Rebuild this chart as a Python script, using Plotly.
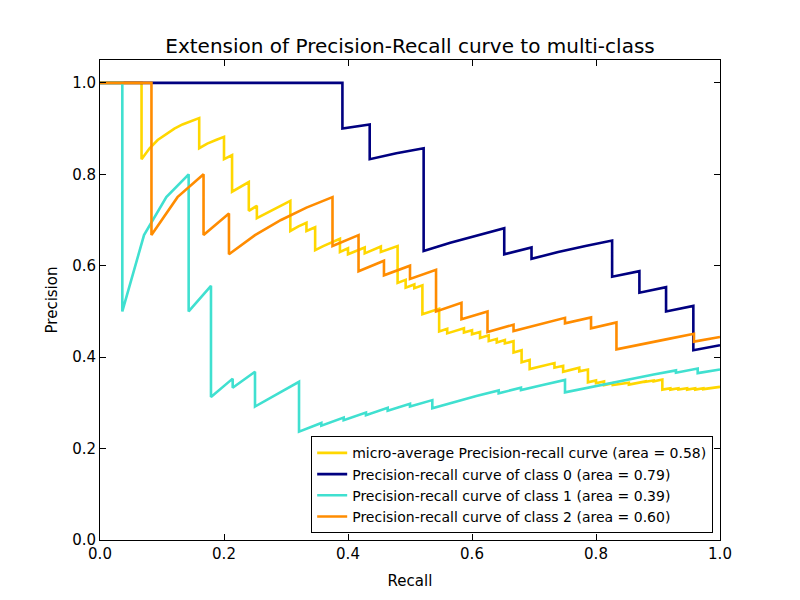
import plotly.graph_objects as go

# ---- data ----
labels = [
    "micro-average Precision-recall curve (area = 0.58)",
    "Precision-recall curve of class 0 (area = 0.79)",
    "Precision-recall curve of class 1 (area = 0.39)",
    "Precision-recall curve of class 2 (area = 0.60)",
]
colors = ["gold", "navy", "turquoise", "darkorange"]

micro_recall = [0, 0.067, 0.067,
    0.08, 0.093, 0.107, 0.12, 0.133, 0.147, 0.16, 0.16,
    0.173, 0.187, 0.2, 0.2,
    0.213, 0.213,
    0.227, 0.24, 0.24,
    0.253, 0.253,
    0.267, 0.28, 0.293, 0.307, 0.307,
    0.32, 0.333, 0.333,
    0.347, 0.347,
    0.36, 0.373, 0.387, 0.387,
    0.4, 0.4,
    0.413, 0.427, 0.427,
    0.44, 0.453, 0.453,
    0.467, 0.48, 0.48,
    0.493, 0.493,
    0.507, 0.507,
    0.52, 0.52,
    0.533, 0.547, 0.547,
    0.56, 0.56,
    0.573, 0.587, 0.587,
    0.6, 0.6,
    0.613, 0.613,
    0.627, 0.627,
    0.64, 0.64,
    0.653, 0.653,
    0.667, 0.667,
    0.68, 0.68,
    0.693, 0.693,
    0.707, 0.72, 0.733, 0.733,
    0.747, 0.747,
    0.76, 0.773, 0.773,
    0.787, 0.787,
    0.8, 0.8,
    0.813, 0.813,
    0.827, 0.827,
    0.84, 0.84,
    0.853, 0.853,
    0.867, 0.88, 0.88,
    0.893, 0.893,
    0.907, 0.907,
    0.92, 0.92,
    0.933, 0.933,
    0.947, 0.947,
    0.96, 0.96,
    0.973, 0.973,
    0.987, 0.987,
    1.0]
micro_precision = [1, 1, 0.833,
    0.857, 0.875, 0.889, 0.9, 0.909, 0.917, 0.923, 0.857,
    0.867, 0.875, 0.882, 0.833,
    0.842, 0.762,
    0.773, 0.783, 0.72,
    0.731, 0.704,
    0.714, 0.724, 0.733, 0.742, 0.676,
    0.686, 0.694, 0.676,
    0.684, 0.634,
    0.643, 0.651, 0.659, 0.63,
    0.638, 0.625,
    0.633, 0.64, 0.627,
    0.635, 0.642, 0.63,
    0.636, 0.643, 0.5625,
    0.569, 0.552,
    0.559, 0.551,
    0.557, 0.494,
    0.5, 0.506, 0.456,
    0.462, 0.452,
    0.457, 0.463, 0.454,
    0.459, 0.45,
    0.455, 0.442,
    0.448, 0.435,
    0.44, 0.432,
    0.4375, 0.43,
    0.435, 0.41,
    0.415, 0.389,
    0.394, 0.374,
    0.379, 0.383, 0.387, 0.377,
    0.381, 0.368,
    0.373, 0.377, 0.369,
    0.373, 0.345,
    0.349, 0.343,
    0.347, 0.339,
    0.343, 0.339,
    0.342, 0.341,
    0.344, 0.34,
    0.344, 0.347, 0.346,
    0.349, 0.347,
    0.351, 0.329,
    0.332, 0.329,
    0.332, 0.329,
    0.332, 0.329,
    0.332, 0.329,
    0.332, 0.33,
    0.333, 0.332,
    0.335]

class0_recall = [0, 0.391, 0.391, 0.435, 0.435, 0.478, 0.522, 0.522, 0.565, 0.609,
                 0.652, 0.652, 0.696, 0.696, 0.739, 0.783, 0.826, 0.826, 0.870, 0.870,
                 0.913, 0.913, 0.957, 0.957, 1.0]
class0_precision = [1, 1, 0.9, 0.909, 0.833, 0.846, 0.857, 0.632, 0.65, 0.667,
                    0.682, 0.625, 0.64, 0.615, 0.63, 0.643, 0.655, 0.576, 0.588, 0.541,
                    0.553, 0.5, 0.512, 0.415, 0.426]

class1_recall = [0, 0.036, 0.036, 0.071, 0.107, 0.143, 0.143, 0.179, 0.179, 0.214,
                 0.214, 0.25, 0.25, 0.286, 0.321, 0.321, 0.357, 0.357, 0.393, 0.393,
                 0.429, 0.429, 0.464, 0.464, 0.5, 0.5, 0.536, 0.536, 0.571, 0.607,
                 0.643, 0.643, 0.679, 0.679, 0.714, 0.75, 0.75, 0.786, 0.821, 0.857,
                 0.893, 0.929, 0.929, 0.964, 0.964, 1.0]
class1_precision = [1, 1, 0.5, 0.667, 0.75, 0.8, 0.5, 0.556, 0.313, 0.353,
                    0.333, 0.368, 0.292, 0.32, 0.346, 0.237, 0.256, 0.25, 0.268, 0.262,
                    0.279, 0.273, 0.289, 0.283, 0.298, 0.292, 0.306, 0.288, 0.302, 0.315,
                    0.327, 0.321, 0.333, 0.328, 0.339, 0.35, 0.323, 0.333, 0.343, 0.353,
                    0.362, 0.371, 0.366, 0.375, 0.365, 0.373]

class2_recall = [0, 0.083, 0.083, 0.125, 0.167, 0.167, 0.208, 0.208, 0.25, 0.292,
                 0.333, 0.375, 0.375, 0.417, 0.417, 0.458, 0.458, 0.5, 0.5, 0.542,
                 0.542, 0.583, 0.583, 0.625, 0.625, 0.667, 0.667, 0.708, 0.75, 0.75,
                 0.792, 0.792, 0.833, 0.833, 0.875, 0.917, 0.958, 0.958, 1.0]
class2_precision = [1, 1, 0.667, 0.75, 0.8, 0.667, 0.714, 0.625, 0.667, 0.7,
                    0.727, 0.75, 0.643, 0.667, 0.588, 0.611, 0.579, 0.6, 0.571, 0.591,
                    0.5, 0.519, 0.483, 0.5, 0.455, 0.471, 0.457, 0.472, 0.486, 0.474,
                    0.487, 0.463, 0.476, 0.417, 0.429, 0.44, 0.451, 0.434, 0.444]

tick_vals = [0.0, 0.2, 0.4, 0.6, 0.8, 1.0]
tick_text = ["0.0", "0.2", "0.4", "0.6", "0.8", "1.0"]

series = [
    (micro_recall, micro_precision),
    (class0_recall, class0_precision),
    (class1_recall, class1_precision),
    (class2_recall, class2_precision),
]

FONT = "DejaVu Sans"

fig = go.Figure()
for (r, p), name, col in zip(series, labels, colors):
    fig.add_trace(go.Scatter(x=r, y=p, mode="lines", name=name,
                             line=dict(color=col, width=2.6)))

axis_common = dict(
    showgrid=False, zeroline=False, automargin=False,
    showline=True, linecolor="black", linewidth=1, mirror="ticks",
    ticks="inside", ticklen=6, tickwidth=1, tickcolor="black",
    tickvals=tick_vals, ticktext=tick_text,
    tickfont=dict(family=FONT, size=15, color="black"),
)

# the page places the figure 8px from the top-left corner; margins compensate
fig.update_layout(
    width=800, height=600,
    margin=dict(l=92, r=88, t=52, b=68),
    paper_bgcolor="white", plot_bgcolor="white",
    font=dict(family=FONT, color="black"),
    title=dict(text="Extension of Precision-Recall curve to multi-class",
               x=0.5025, xanchor="center", y=0.937, yanchor="middle",
               font=dict(family=FONT, size=20, color="black"), automargin=False),
    xaxis=dict(range=[0, 1.0], title=dict(text="Recall", standoff=13,
               font=dict(family=FONT, size=15)), **axis_common),
    yaxis=dict(range=[0, 1.05], title=dict(text="Precision", standoff=10,
               font=dict(family=FONT, size=15)), **axis_common),
    legend=dict(x=0.989, xanchor="right", y=0.014, yanchor="bottom",
                bgcolor="white", bordercolor="black", borderwidth=1,
                font=dict(family=FONT, size=14, color="black"),
                tracegroupgap=0, itemwidth=30),
    showlegend=True,
)

fig.write_html("out.html")
